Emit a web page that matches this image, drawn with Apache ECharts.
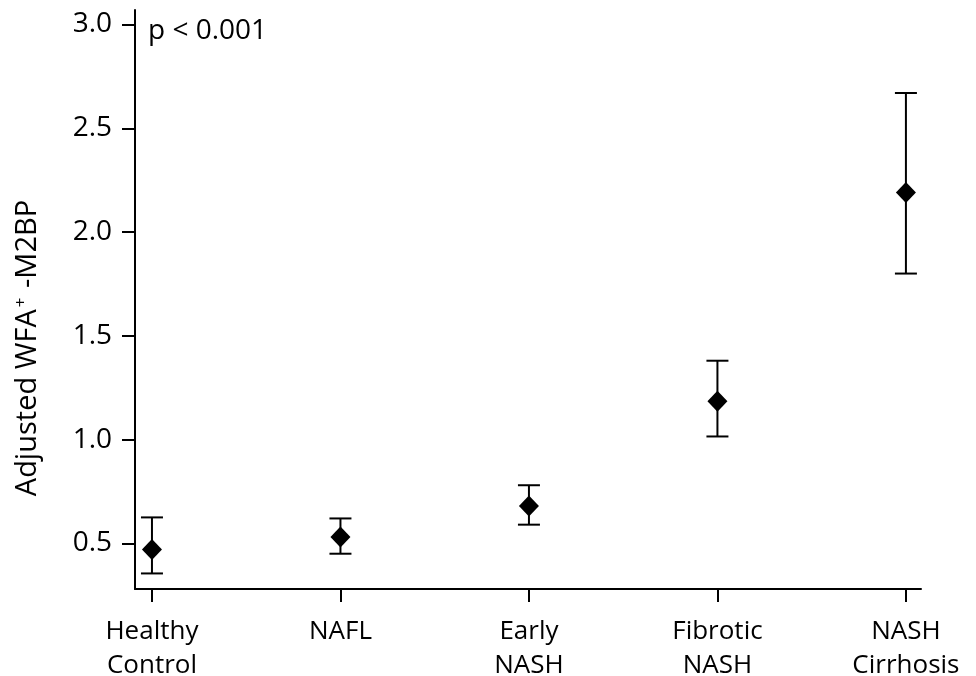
<!DOCTYPE html>
<html>
<head>
<meta charset="utf-8">
<script src="https://cdn.jsdelivr.net/npm/echarts@6/dist/echarts.min.js"></script>
<style>
  html, body { margin: 0; padding: 0; background: #fff; }
  #chart { width: 976px; height: 676px; }
</style>
</head>
<body>
<div id="chart"></div>
<script>
// 分组
const categories = ['Healthy\nControl', 'NAFL', 'Early\nNASH', 'Fibrotic\nNASH', 'NASH\nCirrhosis']
// 均值与置信区间
const means = [0.47, 0.53, 0.68, 1.185, 2.19]
const lower = [0.355, 0.45, 0.59, 1.015, 1.80]
const upper = [0.625, 0.62, 0.78, 1.38, 2.67]
// y 轴刻度
const yTicks = [0.5, 1.0, 1.5, 2.0, 2.5, 3.0]

const font = 'Open Sans'
const positions = categories.map((c, i) => i + 1)

const chart = echarts.init(document.getElementById('chart'))

const option = {
  backgroundColor: '#fff',
  animation: false,
  grid: {
    left: 135,
    right: 55,
    top: 10,
    bottom: 87,
    outerBoundsMode: 'none',
    containLabel: false
  },
  xAxis: {
    type: 'value',
    min: 0.91,
    max: 5.08,
    axisLine: { show: true, lineStyle: { color: '#000', width: 2 } },
    axisTick: {
      show: true,
      customValues: positions,
      length: 13,
      lineStyle: { color: '#000', width: 2 }
    },
    axisLabel: {
      customValues: positions,
      formatter: v => categories[Math.round(v) - 1] || '',
      fontFamily: font,
      fontSize: 26,
      lineHeight: 34,
      color: '#000',
      margin: 26
    },
    splitLine: { show: false }
  },
  yAxis: {
    type: 'value',
    min: 0.28,
    max: 3.07,
    axisLine: { show: true, lineStyle: { color: '#000', width: 2 } },
    axisTick: {
      show: true,
      customValues: yTicks,
      length: 13,
      lineStyle: { color: '#000', width: 2 }
    },
    axisLabel: {
      customValues: yTicks,
      formatter: v => v.toFixed(1),
      fontFamily: font,
      fontSize: 28,
      color: '#000',
      margin: 23
    },
    splitLine: { show: false }
  },
  graphic: [
    {
      type: 'text',
      left: 148,
      top: 17,
      style: {
        text: 'p < 0.001',
        font: '28px "Open Sans"',
        fill: '#000'
      }
    },
    {
      // y 轴标题
      type: 'text',
      x: 28,
      y: 348,
      rotation: Math.PI / 2,
      style: {
        text: '{a|Adjusted WFA}{s|+}{a| -M2BP}',
        align: 'center',
        verticalAlign: 'middle',
        rich: {
          a: { fontFamily: font, fontSize: 29, fill: '#000' },
          s: { fontFamily: font, fontSize: 17, fill: '#000', padding: [0, 2, 14, 2] }
        }
      }
    }
  ],
  series: [
    {
      // 误差线
      type: 'custom',
      data: positions.map((x, i) => [x, lower[i], upper[i]]),
      encode: { x: 0, y: [1, 2] },
      renderItem(params, api) {
        const x = api.value(0)
        const lo = api.coord([x, api.value(1)])
        const hi = api.coord([x, api.value(2)])
        const half = 11
        const style = { stroke: '#000', lineWidth: 2 }
        return {
          type: 'group',
          children: [
            { type: 'line', shape: { x1: lo[0], y1: lo[1], x2: hi[0], y2: hi[1] }, style },
            { type: 'line', shape: { x1: hi[0] - half, y1: hi[1], x2: hi[0] + half, y2: hi[1] }, style },
            { type: 'line', shape: { x1: lo[0] - half, y1: lo[1], x2: lo[0] + half, y2: lo[1] }, style }
          ]
        }
      },
      z: 2
    },
    {
      // 均值
      type: 'scatter',
      data: positions.map((x, i) => [x, means[i]]),
      symbol: 'diamond',
      symbolSize: [20, 21],
      itemStyle: { color: '#000', opacity: 1 },
      z: 3
    }
  ]
}

chart.setOption(option)
</script>
</body>
</html>
